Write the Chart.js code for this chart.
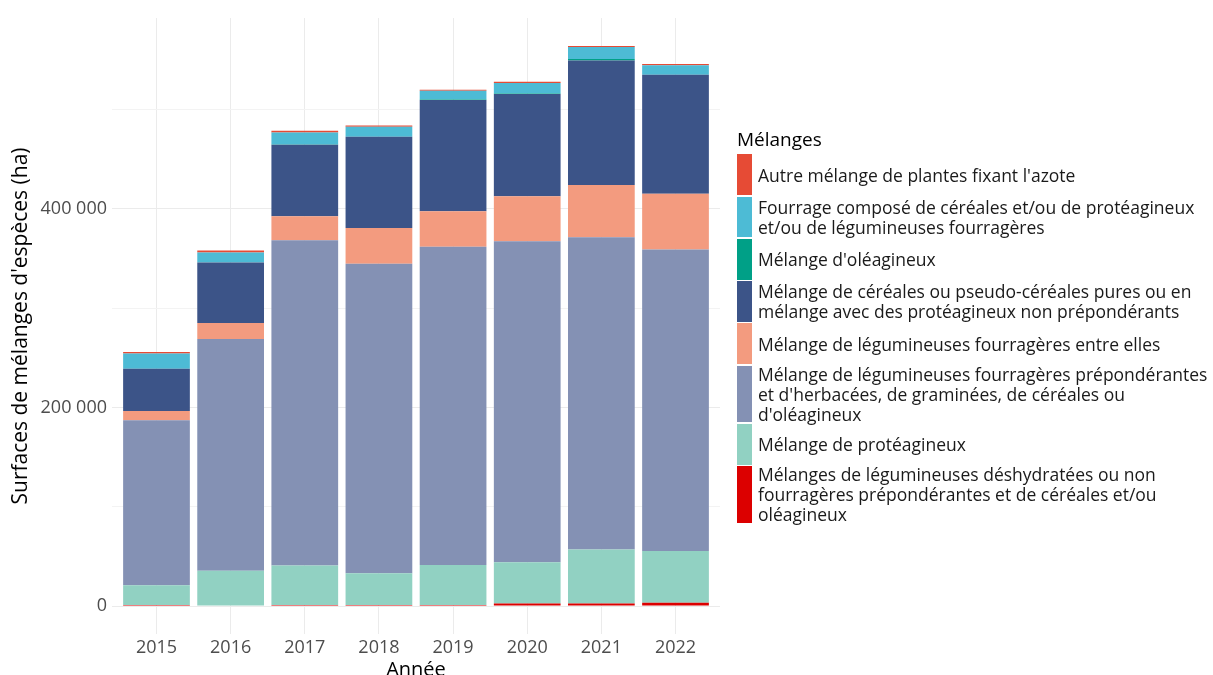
<!DOCTYPE html>
<html>
<head>
<meta charset="utf-8">
<script src="https://cdn.jsdelivr.net/npm/chart.js@4.4.1/dist/chart.umd.min.js"></script>
<style>
html,body{margin:0;padding:0;background:#ffffff;}
#wrap{position:relative;width:1213px;height:675px;overflow:hidden;font-family:'Open Sans',sans-serif;background:#fff;}
#c{position:absolute;left:0;top:0;}
#legend{position:absolute;left:737px;top:129px;}
.lt{font-size:19px;line-height:20px;height:20px;margin-bottom:5.3px;color:#000;}
.item{display:flex;align-items:center;margin-bottom:1.6px;}
.key{width:15px;align-self:stretch;}
.lab{margin-left:6px;font-size:17.5px;line-height:20px;white-space:pre;color:#1a1a1a;}
</style>
</head>
<body>
<div id="wrap">
<canvas id="c" width="1213" height="675"></canvas>
<div id="legend"></div>
</div>
<script>
// ---- Data ----
const years = [2015, 2016, 2017, 2018, 2019, 2020, 2021, 2022];

const autreAzote      = [1400, 2000, 1700, 1300, 1100, 1300, 1000, 1300];
const fourrageCompose = [15400, 10000, 12100, 10100, 8800, 10500, 12000, 9500];
const oleagineux      = [0, 0, 300, 0, 600, 600, 1500, 0];
const cereales        = [42500, 61000, 72100, 91800, 111900, 102900, 125500, 119700];
const legEntreElles   = [9400, 16000, 24100, 36200, 35900, 45300, 52600, 56300];
const legPrepond      = [166000, 233600, 327700, 311600, 320300, 323400, 314400, 303500];
const proteagineux    = [20000, 34900, 39700, 32000, 40400, 41500, 54500, 52200];
const deshydratees    = [1000, 500, 1000, 1000, 1000, 2500, 2500, 3300];

const yTickValues = [0, 100000, 200000, 300000, 400000, 500000];
const yTickLabels = ['0', '', '200 000', '', '400 000', ''];

const legendTitle = 'Mélanges';
const yTitle = "Surfaces de mélanges d'espèces (ha)";
const xTitle = 'Année';

// series listed bottom -> top of the stack
const series = [
  {name: "Mélanges de légumineuses déshydratées ou non\nfourragères prépondérantes et de céréales et/ou\noléagineux", values: deshydratees, color: '#DC0000'},
  {name: "Mélange de protéagineux", values: proteagineux, color: '#91D1C2'},
  {name: "Mélange de légumineuses fourragères prépondérantes\net d'herbacées, de graminées, de céréales ou\nd'oléagineux", values: legPrepond, color: '#8491B4'},
  {name: "Mélange de légumineuses fourragères entre elles", values: legEntreElles, color: '#F39B7F'},
  {name: "Mélange de céréales ou pseudo-céréales pures ou en\nmélange avec des protéagineux non prépondérants", values: cereales, color: '#3C5488'},
  {name: "Mélange d'oléagineux", values: oleagineux, color: '#00A087'},
  {name: "Fourrage composé de céréales et/ou de protéagineux\net/ou de légumineuses fourragères", values: fourrageCompose, color: '#4DBBD5'},
  {name: "Autre mélange de plantes fixant l'azote", values: autreAzote, color: '#E64B35'}
];

const datasets = series.map(s => ({
  label: s.name,
  data: years.map((y, i) => ({x: y, y: s.values[i]})),
  backgroundColor: s.color,
  borderWidth: 0,
  barPercentage: 0.9,
  categoryPercentage: 1.0
}));

const FONT = "'Open Sans', sans-serif";

new Chart(document.getElementById('c'), {
  type: 'bar',
  data: {datasets},
  options: {
    responsive: false,
    animation: false,
    devicePixelRatio: 1,
    layout: {padding: {left: 0, top: 18, right: 493, bottom: 0}},
    plugins: {legend: {display: false}, tooltip: {enabled: false}},
    scales: {
      x: {
        type: 'linear',
        stacked: true,
        offset: false,
        min: years[0] - 0.6,
        max: years[years.length - 1] + 0.6,
        afterBuildTicks: s => { s.ticks = years.map(v => ({value: v})); },
        afterFit: s => { s.height = 41; },
        grid: {color: '#EBEBEB', lineWidth: 1, drawTicks: false, offset: false},
        border: {display: false},
        ticks: {
          padding: 3,
          color: '#4D4D4D',
          font: {family: FONT, size: 18},
          maxRotation: 0,
          autoSkip: false,
          callback: v => String(v)
        },
        title: {
          display: true, text: xTitle, color: '#000',
          font: {family: FONT, size: 20, lineHeight: 1},
          padding: {top: 0, bottom: -5}
        }
      },
      y: {
        stacked: true,
        min: -28200,
        max: 592200,
        afterBuildTicks: s => { s.ticks = yTickValues.map(v => ({value: v})); },
        afterFit: s => { s.width = 112; },
        grid: {
          drawTicks: false,
          color: ctx => (ctx.tick && ctx.tick.value % 200000 === 0) ? '#EBEBEB' : '#F3F3F3',
          lineWidth: 1
        },
        border: {display: false},
        ticks: {
          padding: 5,
          color: '#4D4D4D',
          font: {family: FONT, size: 18},
          callback: (v) => { const i = yTickValues.indexOf(v); return i >= 0 ? yTickLabels[i] : ''; }
        },
        title: {
          display: true, text: yTitle, color: '#000',
          font: {family: FONT, size: 21, lineHeight: 1.2},
          padding: {top: 8, bottom: 0}
        }
      }
    }
  }
});

// HTML legend (top of stack first)
const leg = document.getElementById('legend');
const t = document.createElement('div');
t.className = 'lt';
t.textContent = legendTitle;
leg.appendChild(t);
series.slice().reverse().forEach(s => {
  const lines = s.name.split('\n').length;
  const it = document.createElement('div');
  it.className = 'item';
  it.style.height = (lines > 2 ? 56.6 : 40.7) + 'px';
  const k = document.createElement('div');
  k.className = 'key';
  k.style.background = s.color;
  const l = document.createElement('div');
  l.className = 'lab';
  l.textContent = s.name;
  it.appendChild(k);
  it.appendChild(l);
  leg.appendChild(it);
});
</script>
</body>
</html>
